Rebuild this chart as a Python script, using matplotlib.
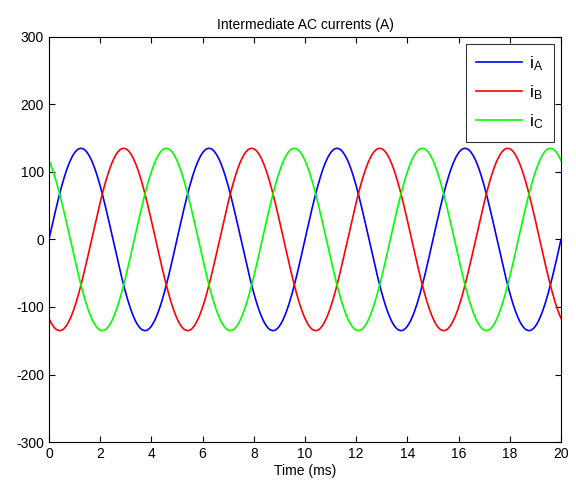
import numpy as np
import matplotlib
matplotlib.use("Agg")
import matplotlib.pyplot as plt

plt.rcParams['font.family'] = ['Liberation Sans', 'DejaVu Sans']
plt.rcParams['axes.unicode_minus'] = False

series_names = ['$\\mathregular{i_A}$', '$\\mathregular{i_B}$', '$\\mathregular{i_C}$']
series_colors = ['#0000ff', '#ff0000', '#00ff00']
amplitude_A = 135.0          # peak current (A)
frequency_khz = 0.2          # 200 Hz -> period 5 ms
phases_deg = [0.0, -120.0, 120.0]
t_start_ms, t_end_ms = 0.0, 20.0
xticks = [0, 2, 4, 6, 8, 10, 12, 14, 16, 18, 20]
yticks = [-300, -200, -100, 0, 100, 200, 300]

t = np.linspace(t_start_ms, t_end_ms, 2001)

fig = plt.figure(figsize=(5.76, 4.86), dpi=100)
ax = fig.add_axes([0.085, 0.0905, 0.889, 0.8335])

for name, color, ph in zip(series_names, series_colors, phases_deg):
    y = amplitude_A * np.sin(2 * np.pi * frequency_khz * t + np.deg2rad(ph))
    ax.plot(t, y, color=color, lw=1.2, label=name)

ax.set_xlim(0, 20)
ax.set_ylim(-300, 300)
ax.set_xticks(xticks)
ax.set_yticks(yticks)
ax.tick_params(direction='in', top=True, right=True, labelsize=10, length=4, width=0.8)
for s in ax.spines.values():
    s.set_linewidth(0.8)
ax.set_xlabel('Time (ms)', fontsize=10, labelpad=2)
ax.set_title('Intermediate AC currents (A)', fontsize=10, pad=6)

leg = ax.legend(loc='upper right', fontsize=12.5, frameon=True, fancybox=False,
                edgecolor='black', handlelength=2.6, borderaxespad=0.4,
                labelspacing=0.6, handletextpad=0.45, borderpad=0.6)
leg.get_frame().set_linewidth(0.8)

fig.savefig('out.png', dpi=100)
